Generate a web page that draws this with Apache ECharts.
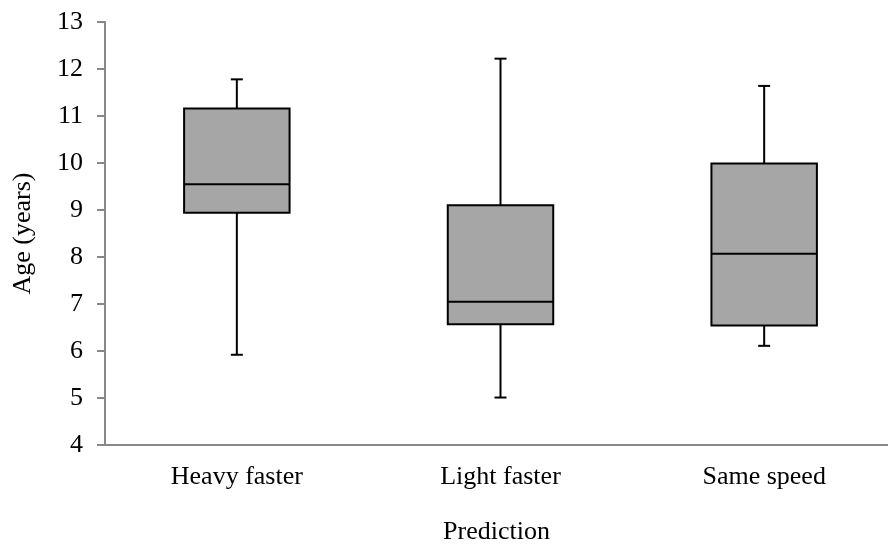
<!DOCTYPE html>
<html>
<head>
<meta charset="utf-8">
<script src="https://cdn.jsdelivr.net/npm/echarts@6/dist/echarts.min.js"></script>
<style>html,body{margin:0;padding:0;background:#fff}#c{width:888px;height:545px}</style>
</head>
<body>
<div id="c"></div>
<script>
const categories = ['Heavy faster', 'Light faster', 'Same speed'];
const whiskerLow = [5.92, 5.01, 6.11];
const boxLow = [8.94, 6.57, 6.54];
const medians = [9.55, 7.05, 8.07];
const boxHigh = [11.16, 9.10, 9.99];
const whiskerHigh = [11.78, 12.22, 11.64];
const yTicks = [4, 5, 6, 7, 8, 9, 10, 11, 12, 13];

const data = categories.map((c, i) => [i, whiskerLow[i], boxLow[i], medians[i], boxHigh[i], whiskerHigh[i]]);

function renderItem(params, api) {
  const idx = api.value(0);
  const band = api.size([1, 0])[0];
  const boxW = band * 0.4;
  const capW = 12;
  const pLo = api.coord([idx, api.value(1)]);
  const pQ1 = api.coord([idx, api.value(2)]);
  const pMed = api.coord([idx, api.value(3)]);
  const pQ3 = api.coord([idx, api.value(4)]);
  const pHi = api.coord([idx, api.value(5)]);
  const cx = pMed[0];
  const lineStyle = { stroke: '#000', lineWidth: 2 };
  return {
    type: 'group',
    children: [
      { type: 'line', shape: { x1: cx, y1: pQ3[1], x2: cx, y2: pHi[1] }, style: lineStyle },
      { type: 'line', shape: { x1: cx, y1: pQ1[1], x2: cx, y2: pLo[1] }, style: lineStyle },
      { type: 'line', shape: { x1: cx - capW / 2, y1: pHi[1], x2: cx + capW / 2, y2: pHi[1] }, style: lineStyle },
      { type: 'line', shape: { x1: cx - capW / 2, y1: pLo[1], x2: cx + capW / 2, y2: pLo[1] }, style: lineStyle },
      { type: 'rect', shape: { x: cx - boxW / 2, y: pQ3[1], width: boxW, height: pQ1[1] - pQ3[1] },
        style: { fill: '#a6a6a6', stroke: '#000', lineWidth: 2 } },
      { type: 'line', shape: { x1: cx - boxW / 2, y1: pMed[1], x2: cx + boxW / 2, y2: pMed[1] }, style: lineStyle }
    ]
  };
}

const chart = echarts.init(document.getElementById('c'));
const font = 'Liberation Serif';
chart.setOption({
  animation: false,
  grid: { left: 105, right: -8, top: 22, bottom: 100, outerBoundsMode: 'none', containLabel: false },
  xAxis: {
    type: 'category',
    data: categories,
    name: 'Prediction',
    nameLocation: 'middle',
    nameGap: 74,
    nameTextStyle: { fontFamily: font, fontSize: 26, color: '#000', padding: [0, 8, 0, 0] },
    axisLine: { lineStyle: { color: '#888', width: 2 } },
    axisTick: { length: 7, lineStyle: { color: '#888', width: 2 } },
    axisLabel: { fontFamily: font, fontSize: 26, color: '#000', margin: 19 }
  },
  yAxis: {
    type: 'value',
    min: yTicks[0],
    max: yTicks[yTicks.length - 1],
    interval: 1,
    name: 'Age (years)',
    nameLocation: 'middle',
    nameGap: 69,
    nameTextStyle: { fontFamily: font, fontSize: 26, color: '#000' },
    axisLine: { show: true, lineStyle: { color: '#888', width: 2 } },
    axisTick: { show: true, length: 8, lineStyle: { color: '#888', width: 2 } },
    splitLine: { show: false },
    axisLabel: { fontFamily: font, fontSize: 26, color: '#000', margin: 22 }
  },
  series: [{
    type: 'custom',
    renderItem: renderItem,
    encode: { x: 0, y: [1, 2, 3, 4, 5] },
    data: data
  }]
});
</script>
</body>
</html>
